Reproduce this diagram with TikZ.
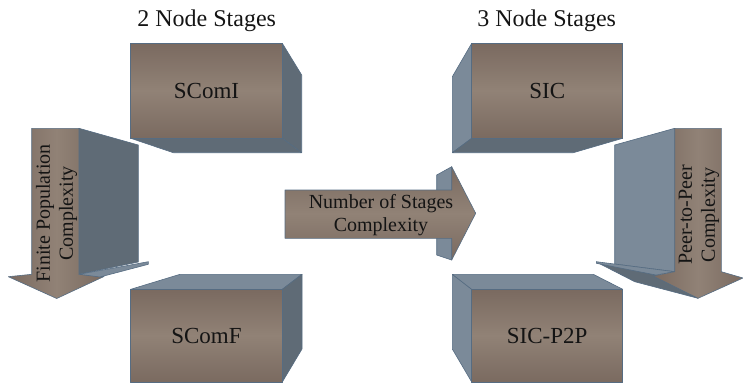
\documentclass[tikz,border=0pt]{standalone}
\usepackage{fontspec}
\setmainfont{Liberation Serif}
\definecolor{brD}{HTML}{7A6A60}
\definecolor{brL}{HTML}{918276}
\definecolor{slD}{HTML}{5F6B76}
\definecolor{slL}{HTML}{7B8A99}
\definecolor{edgeC}{HTML}{566C82}
\definecolor{txt}{HTML}{141414}
\tikzset{
  brownV/.style={top color=brD, bottom color=brD, middle color=brL},
  brownH/.style={left color=brD, right color=brD, middle color=brL},
  edgeline/.style={draw=edgeC, line width=0.6pt, line join=round},
  slatedark/.style={fill=slD, edgeline},
  slatelight/.style={fill=slL, edgeline},
  frontbox/.style={brownV, edgeline, inner sep=0pt, text height=15pt, text depth=0pt,
    text=txt, font=\fontsize{23}{27}\selectfont},
  titletext/.style={text=txt, font=\fontsize{24}{28}\selectfont, inner sep=0pt, anchor=base},
  arrowtext/.style={text=txt, font=\fontsize{20}{23}\selectfont, align=center, inner sep=0pt}
}
\begin{document}
\begin{tikzpicture}[x=1pt,y=-1pt]
\useasboundingbox (0,0) rectangle (743,383);

% titles
\node[titletext] (t2) at (206.7,26) {2 Node Stages};
\node[titletext] (t3) at (546.7,26) {3 Node Stages};

% SComI box
\path[slatedark] (282.3,43.3) -- (301.7,75) -- (301.7,152.7) -- (282.3,138.3) -- cycle;
\path[slatedark] (130.7,138.3) -- (282.3,138.3) -- (301.7,152.7) -- (173.3,152.7) -- cycle;
\node[frontbox, minimum width=151.6pt, minimum height=95pt] (scomi) at (206.5,90.8) {SComI};

% SIC box
\path[slatelight] (452.3,76.7) -- (471.7,43.3) -- (471.7,138.3) -- (452.3,152.7) -- cycle;
\path[slatedark] (452.3,152.7) -- (471.7,138.3) -- (622.7,138.3) -- (573.3,152.7) -- cycle;
\node[frontbox, minimum width=151pt, minimum height=95pt] (sic) at (547.2,90.8) {SIC};

% SComF box
\path[slatelight] (130.7,289.3) -- (180,274.3) -- (302,274.3) -- (282.3,289.3) -- cycle;
\path[slatedark] (282.3,289.3) -- (302,274.3) -- (302,349) -- (282.3,382) -- cycle;
\node[frontbox, minimum width=151.6pt, minimum height=92.7pt] (scomf) at (206.5,335.7) {SComF};

% SIC-P2P box
\path[slatelight] (452.3,274.3) -- (471.7,289.3) -- (471.7,382) -- (452.3,349) -- cycle;
\path[slatelight] (452.3,274.3) -- (593.3,274.3) -- (622.7,289.3) -- (471.7,289.3) -- cycle;
\node[frontbox, minimum width=151pt, minimum height=92.7pt] (sicp) at (547.2,335.7) {SIC-P2P};

% left arrow (Finite Population Complexity)
\path[slatedark] (79,128.3) -- (138.3,145) -- (138.3,262) -- (79,274.3) -- cycle;
\path[brownH, edgeline] (31.7,128.3) -- (79,128.3) -- (79,274.3) -- (104,276.5)
  -- (56.7,298.5) -- (8.3,276.7) -- (31.7,274.3) -- cycle;
\path[slatelight] (79,274.3) -- (148.3,261.7) -- (148.3,264.3) -- (100,277) -- cycle;
\node[arrowtext, rotate=90] (fpc) at (56.7,213.5) {Finite Population\\Complexity};

% right arrow (Peer-to-Peer Complexity)
\path[slatelight] (614.7,145) -- (674.7,128.3) -- (674.7,271.7) -- (614.7,264) -- cycle;
\path[slatedark] (596.3,262) -- (656,275) -- (698,298.3) -- (634.7,281.7) -- cycle;
\path[slatelight] (596.3,261.7) -- (674.7,271.7) -- (656,275) -- (596.3,263.3) -- cycle;
\path[brownH, edgeline] (674.7,128.3) -- (721.3,128.3) -- (721.3,271.7) -- (743,278)
  -- (698,298.3) -- (653,276) -- (674.7,271.7) -- cycle;
\node[arrowtext, rotate=90] (ppc) at (699,215) {Peer-to-Peer\\Complexity};

% middle arrow (Number of Stages Complexity)
\path[slatelight] (436.7,175) -- (451.7,166.7) -- (451.7,260) -- (436.7,255) -- cycle;
\path[brownV, edgeline] (285,190) -- (451.7,190) -- (451.7,166.7) -- (475.7,213.3)
  -- (451.7,260) -- (451.7,238.3) -- (285,238.3) -- cycle;
\node[arrowtext] (nsc) at (381,215.5) {Number of Stages\\Complexity};
\end{tikzpicture}
\end{document}
